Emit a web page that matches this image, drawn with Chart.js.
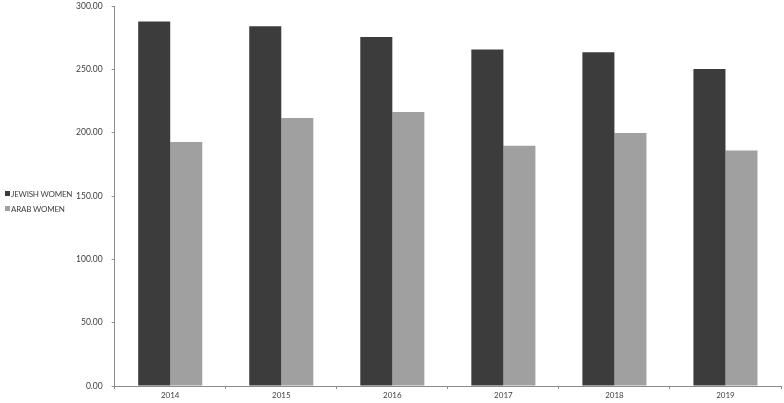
<!DOCTYPE html>
<html>
<head>
<meta charset="utf-8">
<script src="https://cdn.jsdelivr.net/npm/chart.js@4"></script>
<style>
    html, body { margin: 0; padding: 0; background: #fff; }
    #wrap { position: relative; width: 784px; height: 403px; }
    #chart { position: absolute; left: 0; top: 0; }
    .legend-item { position: absolute; left: 5px; font-family: Lato, sans-serif; font-size: 8px; letter-spacing: -0.2px; color: #404040; line-height: 10px; white-space: nowrap; }
    .legend-item span { display: inline-block; width: 5px; height: 5px; margin-right: 1px; vertical-align: 1px; }
</style>
</head>
<body>
<div id="wrap">
    <canvas id="chart" width="784" height="403"></canvas>
    <div class="legend-item" style="top:189px"><span style="background:#3c3c3c"></span>JEWISH WOMEN</div>
    <div class="legend-item" style="top:204px"><span style="background:#a0a0a0"></span>ARAB WOMEN</div>
</div>
<script>
// Chart data
const years = ['2014', '2015', '2016', '2017', '2018', '2019'];
const jewishWomen = [287.7, 284.0, 275.6, 265.6, 263.4, 250.3];
const arabWomen = [192.6, 211.5, 216.3, 189.6, 199.7, 185.9];

const axisColor = '#8c8c8c';

new Chart(document.getElementById('chart').getContext('2d'), {
    type: 'bar',
    data: {
        labels: years,
        datasets: [
            {
                label: 'JEWISH WOMEN',
                data: jewishWomen,
                backgroundColor: '#3c3c3c',
                borderWidth: 0,
                barPercentage: 1,
                categoryPercentage: 0.577
            },
            {
                label: 'ARAB WOMEN',
                data: arabWomen,
                backgroundColor: '#a0a0a0',
                borderWidth: 0,
                barPercentage: 1,
                categoryPercentage: 0.577
            }
        ]
    },
    options: {
        responsive: false,
        animation: false,
        layout: { padding: { top: 0, right: 3, bottom: 0, left: 0 } },
        plugins: {
            legend: { display: false },
            tooltip: { enabled: false }
        },
        scales: {
            x: {
                afterFit: function(scale) { scale.height = 17; },
                grid: { drawOnChartArea: false, color: axisColor, tickLength: 3, offset: true },
                border: { color: axisColor },
                ticks: { color: '#404040', font: { family: 'Lato', size: 8 }, padding: 2 }
            },
            y: {
                min: 0,
                max: 300,
                afterFit: function(scale) {
                    scale.width = 114.7;
                    scale.paddingTop = 6;
                },
                grid: { drawOnChartArea: false, color: axisColor, tickLength: 3 },
                border: { color: axisColor },
                ticks: {
                    stepSize: 50,
                    color: '#404040',
                    font: { family: 'Lato', size: 8.5 },
                    padding: 9,
                    callback: function(value) { return value.toFixed(2); }
                }
            }
        }
    }
});
</script>
</body>
</html>
